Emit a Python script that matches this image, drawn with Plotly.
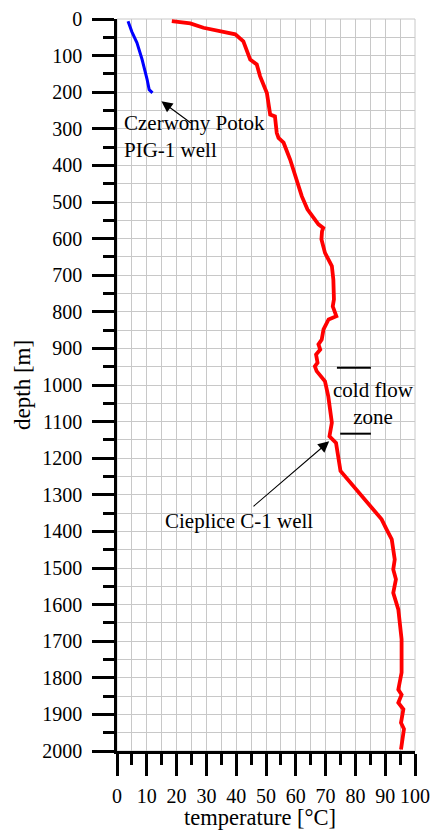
import plotly.graph_objects as go

# Czerwony Potok PIG-1 well
pig_temp = [3.7, 5.0, 6.7, 8.4, 10.1, 10.8, 11.9]
pig_depth = [6, 35, 65, 110, 165, 193, 202]

# Cieplice C-1 well
c1_depth = [6, 12, 24, 38, 42, 61, 111, 124, 156, 202, 238, 261, 266, 311, 325, 338,
            384, 439, 484, 520, 561, 571, 580, 602, 639, 675, 712, 766, 785, 803, 812,
            821, 848, 876, 889, 903, 917, 939, 949, 962, 990, 1031, 1067, 1103, 1140,
            1158, 1235, 1262, 1300, 1340, 1367, 1395, 1422, 1477, 1504, 1531, 1568,
            1613, 1668, 1695, 1786, 1832, 1846, 1868, 1886, 1923, 1940, 1996]
c1_temp = [18.4, 24.6, 29.0, 38.0, 39.7, 42.4, 44.7, 46.9, 48.0, 50.3, 50.8, 51.4, 53.0,
           53.6, 54.2, 55.9, 58.1, 60.3, 62.0, 63.9, 67.6, 69.2, 68.8, 68.6, 69.8, 72.1,
           72.6, 72.8, 72.4, 73.2, 73.6, 71.0, 69.3, 68.7, 67.6, 68.2, 66.8, 67.3, 66.4,
           67.0, 69.8, 70.9, 71.5, 72.1, 71.3, 73.5, 75.0, 77.8, 81.5, 86.0, 88.8, 90.5,
           92.2, 93.2, 92.7, 93.6, 92.7, 94.4, 95.2, 95.5, 95.5, 94.4, 95.5, 94.4, 96.1,
           95.3, 96.3, 95.3]

# cold flow zone bounds (depth) and marker extents (temperature)
zone_depths = [953, 1133]
zone_t_start = [73.8, 74.9]
zone_t_end = [85.2, 85.2]

FONT = "Liberation Serif"

fig = go.Figure()
fig.add_trace(go.Scatter(x=pig_temp, y=pig_depth, mode="lines",
                         line=dict(color="#0000ff", width=3), showlegend=False))
fig.add_trace(go.Scatter(x=c1_temp, y=c1_depth, mode="lines",
                         line=dict(color="#ff0000", width=3.8), showlegend=False))

shapes = [dict(type="rect", xref="paper", yref="paper", x0=0, x1=1, y0=0, y1=1,
               line=dict(color="#c8c8c8", width=1), layer="below")]
for d, t0, t1 in zip(zone_depths, zone_t_start, zone_t_end):
    shapes.append(dict(type="line", xref="x", yref="y", x0=t0, x1=t1, y0=d, y1=d,
                       line=dict(color="black", width=2)))

annotations = [
    dict(x=14.9, y=225, ax=25.3, ay=287, xref="x", yref="y", axref="x", ayref="y",
         text="", showarrow=True, arrowhead=2, arrowsize=2, arrowwidth=1.1,
         arrowcolor="black", standoff=0),
    dict(x=71.2, y=1154, ax=45.3, ay=1335, xref="x", yref="y", axref="x", ayref="y",
         text="", showarrow=True, arrowhead=2, arrowsize=2, arrowwidth=1.1,
         arrowcolor="black", standoff=0),
    dict(x=1.7, y=322, xref="x", yref="y", xanchor="left", yanchor="middle",
         text="Czerwony Potok<br>PIG-1 well", showarrow=False, align="left",
         font=dict(family=FONT, size=21, color="black")),
    dict(x=66.5, y=1372, xref="x", yref="y", xanchor="right", yanchor="middle",
         text="Cieplice C-1 well", showarrow=False,
         font=dict(family=FONT, size=21, color="black")),
    dict(x=86.1, y=1050, xref="x", yref="y", xanchor="center", yanchor="middle",
         text="cold flow<br>zone", showarrow=False, align="center",
         font=dict(family=FONT, size=21, color="black")),
    # axis titles
    dict(x=0.48, y=-0.0915, xref="paper", yref="paper", xanchor="center",
         yanchor="middle", text="temperature [°C]", showarrow=False,
         font=dict(family=FONT, size=22.5, color="black")),
    dict(x=-0.319, y=0.5, xref="paper", yref="paper", xanchor="center",
         yanchor="middle", text="depth [m]", showarrow=False, textangle=-90,
         font=dict(family=FONT, size=23, color="black")),
]

fig.update_layout(
    width=431, height=832,
    margin=dict(l=117, r=16, t=19, b=81),
    paper_bgcolor="white", plot_bgcolor="white",
    font=dict(family=FONT, size=20, color="black"),
    shapes=shapes, annotations=annotations,
    showlegend=False,
)

fig.update_xaxes(
    range=[0, 100], dtick=10, tick0=0, automargin=False,
    showgrid=True, gridcolor="#c8c8c8", gridwidth=1,
    showline=True, linecolor="black", linewidth=2.5,
    ticks="outside", ticklen=22, tickwidth=2.5, tickcolor="black",
    ticklabelstandoff=3,
    minor=dict(dtick=5, tick0=0, ticks="outside", ticklen=11, tickwidth=2.5,
               tickcolor="black", showgrid=True, gridcolor="#c8c8c8", gridwidth=1),
    zeroline=False,
    tickfont=dict(family=FONT, size=20),
)
fig.update_yaxes(
    range=[2000, 0], dtick=100, tick0=0, automargin=False,
    showgrid=True, gridcolor="#c8c8c8", gridwidth=1,
    showline=True, linecolor="black", linewidth=2.5,
    ticks="outside", ticklen=22, tickwidth=2.5, tickcolor="black",
    ticklabelstandoff=6,
    minor=dict(dtick=50, tick0=0, ticks="outside", ticklen=11, tickwidth=2.5,
               tickcolor="black", showgrid=True, gridcolor="#c8c8c8", gridwidth=1),
    zeroline=False,
    tickfont=dict(family=FONT, size=20),
)

fig.write_html(
    "out.html",
    config={"displayModeBar": False},
    post_script="document.documentElement.style.margin='0';"
                "document.body.style.margin='0';"
                "document.body.style.overflow='hidden';",
)
